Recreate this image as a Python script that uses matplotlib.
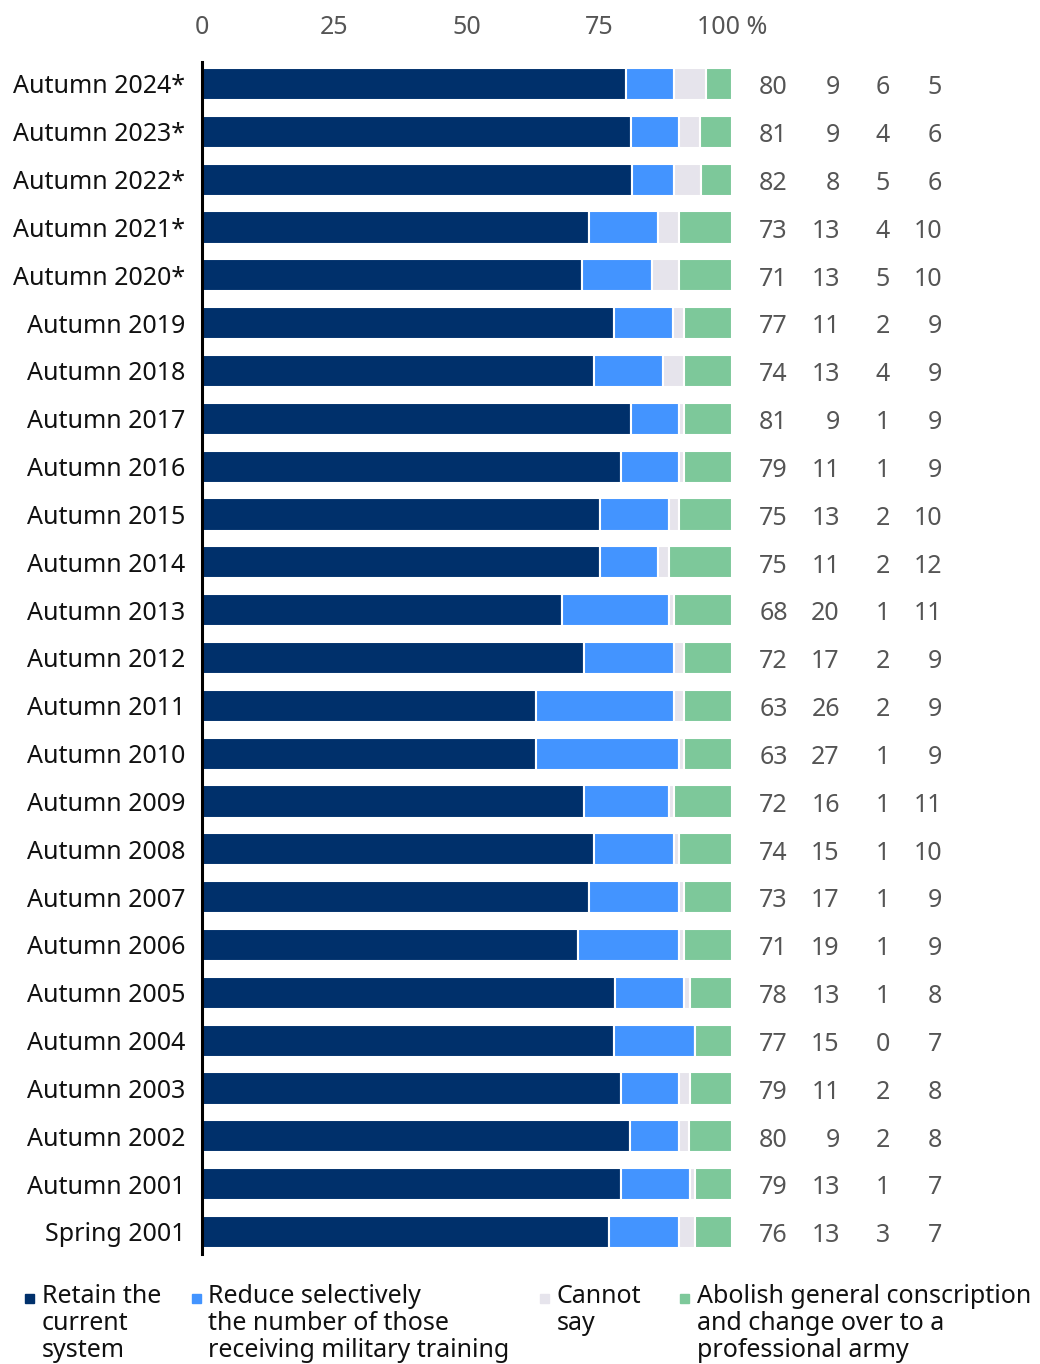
import matplotlib.pyplot as plt
from matplotlib.patches import Rectangle
import numpy as np

plt.rcParams['font.family'] = ['Noto Sans', 'DejaVu Sans']

labels = ["Autumn 2024*", "Autumn 2023*", "Autumn 2022*", "Autumn 2021*", "Autumn 2020*",
          "Autumn 2019", "Autumn 2018", "Autumn 2017", "Autumn 2016", "Autumn 2015",
          "Autumn 2014", "Autumn 2013", "Autumn 2012", "Autumn 2011", "Autumn 2010",
          "Autumn 2009", "Autumn 2008", "Autumn 2007", "Autumn 2006", "Autumn 2005",
          "Autumn 2004", "Autumn 2003", "Autumn 2002", "Autumn 2001", "Spring 2001"]
retain = [80, 81, 82, 73, 71, 77, 74, 81, 79, 75, 75, 68, 72, 63, 63, 72, 74, 73, 71, 78, 77, 79, 80, 79, 76]
reduce = [9, 9, 8, 13, 13, 11, 13, 9, 11, 13, 11, 20, 17, 26, 27, 16, 15, 17, 19, 13, 15, 11, 9, 13, 13]
cannot = [6, 4, 5, 4, 5, 2, 4, 1, 1, 2, 2, 1, 2, 2, 1, 1, 1, 1, 1, 1, 0, 2, 2, 1, 3]
abolish = [5, 6, 6, 10, 10, 9, 9, 9, 9, 10, 12, 11, 9, 9, 9, 11, 10, 9, 9, 8, 7, 8, 8, 7, 7]

series_names = ["Retain the\ncurrent\nsystem",
                "Reduce selectively\nthe number of those\nreceiving military training",
                "Cannot\nsay",
                "Abolish general conscription\nand change over to a\nprofessional army"]
colors = ["#00306b", "#4394ff", "#e6e4ec", "#7dc89a"]

data = np.array([retain, reduce, cannot, abolish], dtype=float)
shares = data / data.sum(axis=0) * 100

W, H = 1040, 1364
fig = plt.figure(figsize=(W / 100, H / 100), dpi=100)
ax = fig.add_axes([0.194, 0.0803, 0.51, 0.8746])

y = np.arange(len(labels))
left = np.zeros(len(labels))
for vals, c in zip(shares, colors):
    ax.barh(y, vals, left=left, height=0.67, color=c, edgecolor="white", linewidth=1.5)
    left += vals

ax.set_xlim(0, 100)
ax.set_ylim(len(labels) - 0.53, -0.47)
ax.set_yticks(y)
ax.set_yticklabels(labels, fontsize=18, color="#111111")
ax.set_xticks([0, 25, 50, 75, 100])
ax.set_xticklabels(["0", "25", "50", "75", "100 %"], fontsize=18, color="#555555")
ax.xaxis.tick_top()
ax.tick_params(axis="both", length=0)
ax.tick_params(axis="x", pad=15.5)
ax.tick_params(axis="y", pad=12)
for s in ["top", "right", "bottom"]:
    ax.spines[s].set_visible(False)
ax.spines["left"].set_linewidth(2.2)
ax.spines["left"].set_color("black")

col_x = [110.5, 120.3, 129.7, 139.6]
for row in range(len(labels)):
    for k, xc in enumerate(col_x):
        ax.text(xc, row + 0.08, f"{int(data[k, row])}", ha="right", va="center",
                fontsize=18, color="#555555", clip_on=False)

# legend, laid out by hand so the swatch sits on the first line
marker_x = [25, 192, 540, 680]
text_x = [42, 208, 557, 697]
for mx, tx, c, name in zip(marker_x, text_x, colors, series_names):
    fig.add_artist(Rectangle((mx / W, 1 - 1303 / H), 9 / W, 9 / H, color=c,
                             transform=fig.transFigure))
    fig.text(tx / W, 1 - 1284 / H, name, ha="left", va="top", fontsize=18,
             color="#111111", linespacing=1.1)

fig.savefig("out.png", dpi=100)
